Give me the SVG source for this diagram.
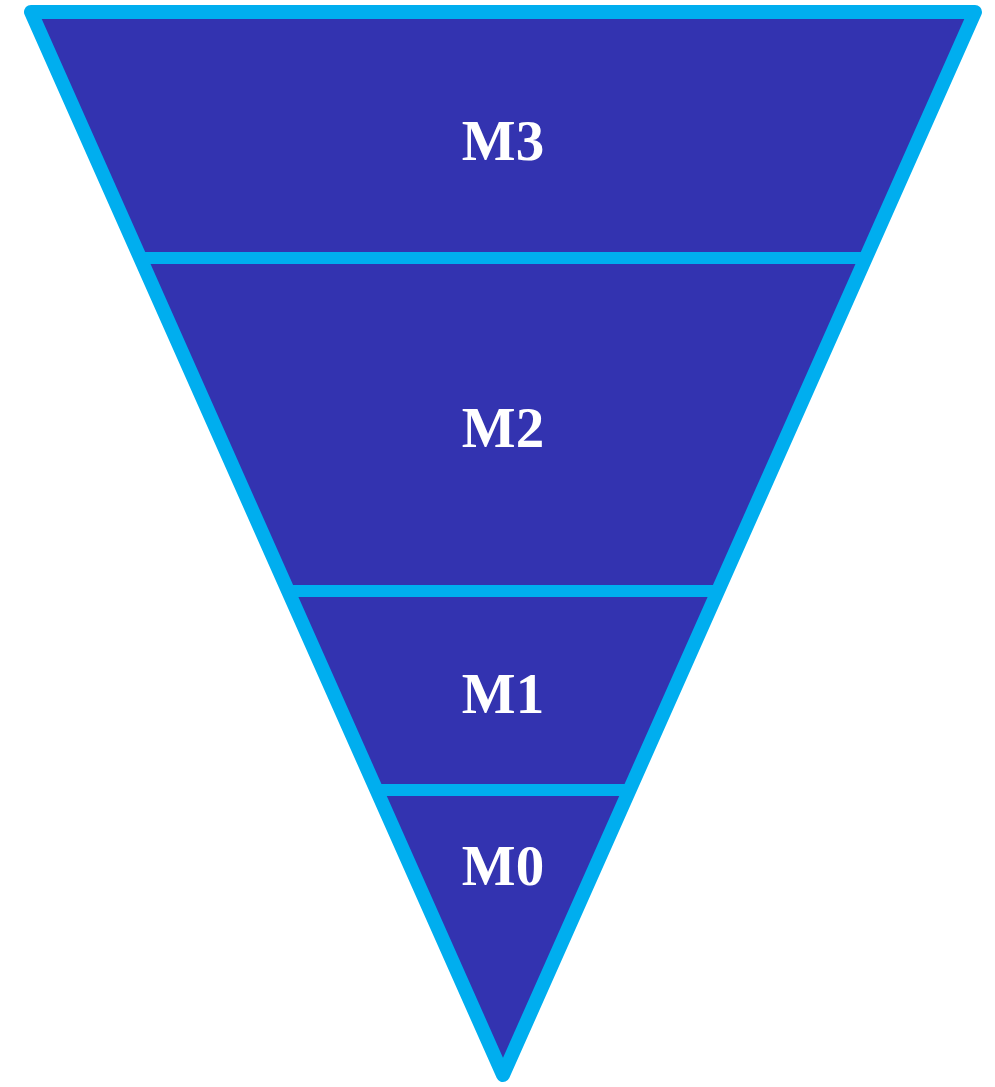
<svg xmlns="http://www.w3.org/2000/svg" width="995" height="1087" viewBox="0 0 995 1087">
<style>
.seg{fill:#3333b0;}
.edge{fill:none;stroke:#00aeef;stroke-width:14;stroke-linejoin:round;stroke-linecap:round;}
.div{stroke:#00aeef;stroke-width:12;}
.lbl{font-family:"Liberation Serif","DejaVu Serif",serif;font-weight:bold;font-size:57px;fill:#ffffff;text-anchor:middle;}
</style>
<g id="funnel">
<polygon class="seg" points="31,12 975,12 503,1075"/>
</g>
<g id="connectors">
<line class="div" x1="140" y1="258" x2="866" y2="258"/>
<line class="div" x1="288" y1="591" x2="718" y2="591"/>
<line class="div" x1="376" y1="790" x2="630" y2="790"/>
</g>
<g id="outline">
<polygon class="edge" points="31,12 975,12 503,1075"/>
</g>
<g id="m3"><text class="lbl" x="503" y="160">M3</text></g>
<g id="m2"><text class="lbl" x="503" y="447">M2</text></g>
<g id="m1"><text class="lbl" x="503" y="713">M1</text></g>
<g id="m0"><text class="lbl" x="503" y="885">M0</text></g>
</svg>
